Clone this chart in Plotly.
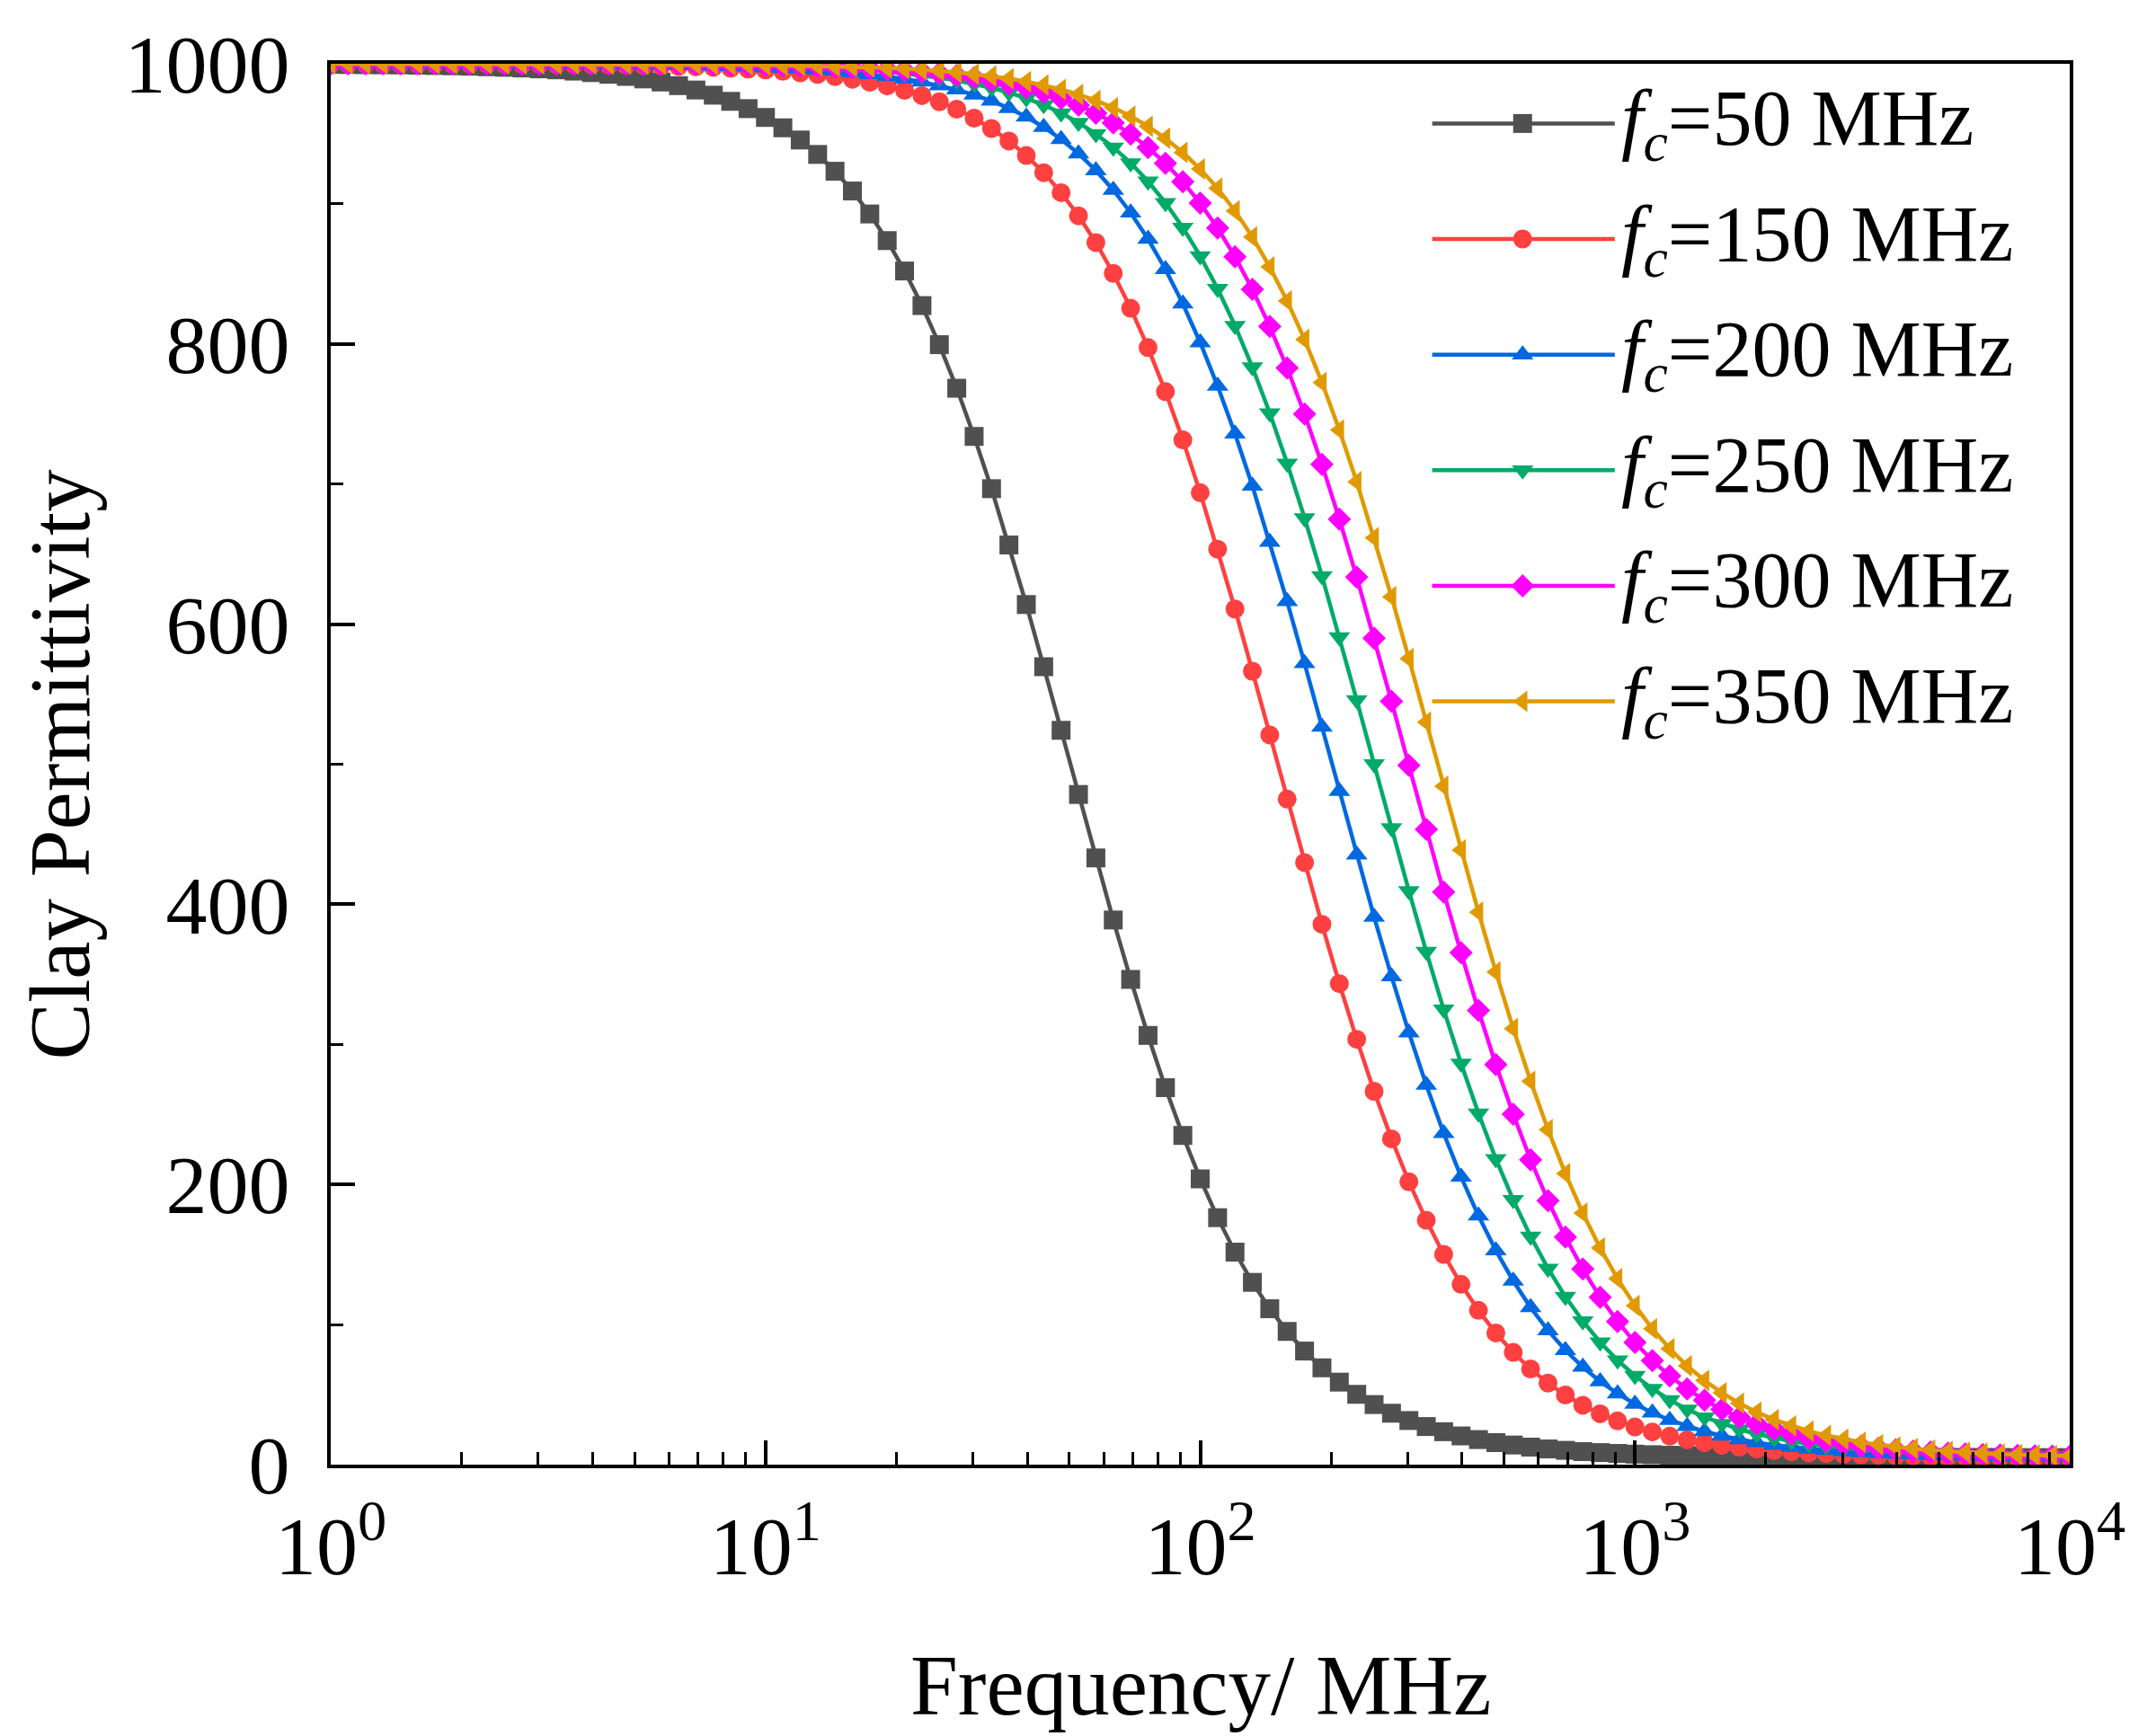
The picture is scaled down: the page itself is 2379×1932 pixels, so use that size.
import plotly.graph_objects as go

# frequency grid (MHz), shared by all curves
freq = [1.0, 1.0965, 1.2023, 1.3183, 1.4454, 1.5849, 1.7378, 1.9055, 2.0893, 2.2909,
        2.5119, 2.7542, 3.02, 3.3113, 3.6308, 3.9811, 4.3652, 4.7863, 5.2481, 5.7544,
        6.3096, 6.9183, 7.5858, 8.3176, 9.1201,
        10.0, 10.965, 12.023, 13.183, 14.454, 15.849, 17.378, 19.055, 20.893, 22.909,
        25.119, 27.542, 30.2, 33.113, 36.308, 39.811, 43.652, 47.863, 52.481, 57.544,
        63.096, 69.183, 75.858, 83.176, 91.201,
        100.0, 109.65, 120.23, 131.83, 144.54, 158.49, 173.78, 190.55, 208.93, 229.09,
        251.19, 275.42, 302.0, 331.13, 363.08, 398.11, 436.52, 478.63, 524.81, 575.44,
        630.96, 691.83, 758.58, 831.76, 912.01,
        1000.0, 1096.5, 1202.3, 1318.3, 1445.4, 1584.9, 1737.8, 1905.5, 2089.3, 2290.9,
        2511.9, 2754.2, 3020.0, 3311.3, 3630.8, 3981.1, 4365.2, 4786.3, 5248.1, 5754.4,
        6309.6, 6918.3, 7585.8, 8317.6, 9120.1,
        10000.0]

eps_fc50 = [999.6, 999.5, 999.4, 999.3, 999.2, 999.0, 998.8, 998.6, 998.3, 997.9,
            997.5, 997.0, 996.4, 995.7, 994.8, 993.7, 992.5, 991.0, 989.2, 987.0,
            984.4, 981.3, 977.6, 973.2, 968.0, 961.7, 954.3, 945.6, 935.3, 923.3,
            909.2, 892.8, 873.8, 852.1, 827.4, 799.5, 768.4, 734.0, 696.7, 656.5,
            614.0, 569.6, 524.2, 478.4, 433.1, 388.8, 346.4, 306.4, 269.1, 235.0,
            204.0, 176.3, 151.7, 130.1, 111.3, 95.1, 81.1, 69.1, 58.9, 50.2,
            42.9, 36.7, 31.5, 27.2, 23.5, 20.5, 17.9, 15.7, 14.0, 12.5,
            11.2, 10.2, 9.3, 8.6, 8.0, 7.5, 7.1, 6.7, 6.4, 6.2,
            6.0, 5.8, 5.7, 5.6, 5.5, 5.4, 5.3, 5.3, 5.2, 5.2,
            5.2, 5.1, 5.1, 5.1, 5.1, 5.1, 5.1, 5.0, 5.0, 5.0,
            5.0]

eps_fc150 = [1000.0, 999.9, 999.9, 999.9, 999.9, 999.9, 999.9, 999.8, 999.8, 999.8,
             999.7, 999.7, 999.6, 999.5, 999.4, 999.3, 999.2, 999.0, 998.8, 998.5,
             998.2, 997.9, 997.5, 996.9, 996.3, 995.6, 994.7, 993.6, 992.4, 990.8,
             989.0, 986.8, 984.2, 981.1, 977.3, 972.9, 967.6, 961.2, 953.8, 944.9,
             934.5, 922.3, 908.0, 891.5, 872.4, 850.4, 825.5, 797.4, 766.0, 731.5,
             693.8, 653.5, 610.8, 566.4, 520.9, 475.1, 429.8, 385.7, 343.4, 303.6,
             266.5, 232.6, 201.9, 174.4, 150.1, 128.7, 110.1, 94.0, 80.1, 68.3,
             58.2, 49.7, 42.4, 36.3, 31.2, 26.9, 23.3, 20.3, 17.7, 15.6,
             13.8, 12.4, 11.1, 10.1, 9.2, 8.5, 7.9, 7.4, 7.0, 6.7,
             6.4, 6.2, 6.0, 5.8, 5.7, 5.6, 5.5, 5.4, 5.3, 5.3,
             5.2]

eps_fc200 = [1000.0, 1000.0, 1000.0, 1000.0, 999.9, 999.9, 999.9, 999.9, 999.9, 999.9,
             999.8, 999.8, 999.8, 999.7, 999.7, 999.6, 999.5, 999.4, 999.3, 999.2,
             999.0, 998.8, 998.6, 998.3, 997.9, 997.5, 997.0, 996.4, 995.7, 994.8,
             993.8, 992.5, 991.0, 989.3, 987.1, 984.5, 981.5, 977.8, 973.5, 968.3,
             962.1, 954.8, 946.1, 935.9, 923.9, 909.9, 893.7, 874.9, 853.3, 828.7,
             801.0, 770.0, 735.9, 698.7, 658.6, 616.2, 572.0, 526.6, 480.8, 435.4,
             391.0, 348.5, 308.4, 271.0, 236.6, 205.5, 177.6, 152.9, 131.2, 112.2,
             95.8, 81.7, 69.7, 59.4, 50.7, 43.3, 37.0, 31.8, 27.4, 23.7,
             20.6, 18.0, 15.8, 14.0, 12.5, 11.3, 10.2, 9.3, 8.6, 8.0,
             7.5, 7.1, 6.7, 6.4, 6.2, 6.0, 5.8, 5.7, 5.6, 5.5,
             5.4]

eps_fc250 = [1000.0, 1000.0, 1000.0, 1000.0, 1000.0, 1000.0, 1000.0, 999.9, 999.9, 999.9,
             999.9, 999.9, 999.9, 999.8, 999.8, 999.7, 999.7, 999.6, 999.6, 999.5,
             999.4, 999.2, 999.1, 998.9, 998.7, 998.4, 998.1, 997.7, 997.2, 996.7,
             996.0, 995.2, 994.3, 993.1, 991.7, 990.1, 988.1, 985.7, 982.8, 979.4,
             975.4, 970.6, 964.8, 958.0, 949.9, 940.4, 929.2, 916.1, 900.8, 883.1,
             862.8, 839.5, 813.1, 783.5, 750.7, 714.8, 675.8, 634.4, 590.8, 545.8,
             500.1, 454.5, 409.6, 366.2, 325.0, 286.4, 250.8, 218.3, 189.0, 163.0,
             140.0, 119.9, 102.5, 87.4, 74.5, 63.5, 54.2, 46.2, 39.5, 33.9,
             29.2, 25.2, 21.8, 19.0, 16.7, 14.8, 13.1, 11.8, 10.6, 9.7,
             8.9, 8.3, 7.7, 7.3, 6.9, 6.6, 6.3, 6.1, 5.9, 5.7,
             5.6]

eps_fc300 = [1000.0, 1000.0, 1000.0, 1000.0, 1000.0, 1000.0, 1000.0, 1000.0, 1000.0, 999.9,
             999.9, 999.9, 999.9, 999.9, 999.9, 999.8, 999.8, 999.7, 999.7, 999.6,
             999.6, 999.5, 999.4, 999.2, 999.1, 998.9, 998.7, 998.4, 998.1, 997.7,
             997.2, 996.7, 996.0, 995.2, 994.2, 993.1, 991.7, 990.0, 988.0, 985.6,
             982.8, 979.4, 975.3, 970.5, 964.7, 957.9, 949.8, 940.2, 929.0, 915.8,
             900.5, 882.7, 862.3, 839.0, 812.5, 782.9, 750.0, 714.0, 675.0, 633.5,
             589.9, 544.9, 499.2, 453.5, 408.7, 365.4, 324.2, 285.6, 250.1, 217.6,
             188.5, 162.5, 139.6, 119.5, 102.2, 87.2, 74.3, 63.3, 54.0, 46.1,
             39.4, 33.8, 29.1, 25.1, 21.8, 19.0, 16.7, 14.7, 13.1, 11.7,
             10.6, 9.7, 8.9, 8.2, 7.7, 7.2, 6.9, 6.6, 6.3, 6.1,
             5.9]

eps_fc350 = [1000.0, 1000.0, 1000.0, 1000.0, 1000.0, 1000.0, 1000.0, 1000.0, 1000.0, 1000.0,
             999.9, 999.9, 999.9, 999.9, 999.9, 999.9, 999.8, 999.8, 999.8, 999.7,
             999.7, 999.6, 999.5, 999.4, 999.3, 999.2, 999.0, 998.8, 998.6, 998.3,
             998.0, 997.6, 997.1, 996.5, 995.8, 994.9, 993.9, 992.6, 991.2, 989.4,
             987.3, 984.8, 981.7, 978.1, 973.8, 968.7, 962.6, 955.4, 946.8, 936.7,
             924.9, 911.1, 895.0, 876.4, 855.0, 830.7, 803.2, 772.5, 738.6, 701.6,
             661.7, 619.5, 575.4, 530.0, 484.3, 438.8, 394.4, 351.7, 311.3, 273.7,
             239.1, 207.8, 179.6, 154.7, 132.7, 113.6, 97.0, 82.7, 70.5, 60.1,
             51.3, 43.8, 37.5, 32.2, 27.7, 23.9, 20.8, 18.2, 16.0, 14.2,
             12.6, 11.4, 10.3, 9.4, 8.7, 8.1, 7.5, 7.1, 6.8, 6.5,
             6.2]

cutoffs = ['50', '150', '200', '250', '300', '350']
series = [eps_fc50, eps_fc150, eps_fc200, eps_fc250, eps_fc300, eps_fc350]
colors = ['#505050', '#ff4040', '#0068e0', '#00aa68', '#ff00ff', '#e09a00']
symbols = ['square', 'circle', 'triangle-up', 'triangle-down', 'diamond', 'triangle-left']
msizes = [21, 21, 21, 21, 20, 21]

FONT = 'Liberation Serif'

fig = go.Figure()

for vals, col, sym, ms in zip(series, colors, symbols, msizes):
    fig.add_trace(go.Scatter(
        x=freq, y=vals,
        mode='lines+markers',
        line=dict(color=col, width=4.5),
        marker=dict(symbol=sym, size=ms, color=col, line=dict(width=0)),
        showlegend=False
    ))

# hand-made legend (long line sample with marker in the middle)
leg_y = [0.9574, 0.8749, 0.7924, 0.7099, 0.6274, 0.5449]
for fc, col, sym, ms, ly in zip(cutoffs, colors, symbols, msizes, leg_y):
    fig.add_trace(go.Scatter(
        x=[0.6334, 0.7384], y=[ly, ly], xaxis='x2', yaxis='y2',
        mode='lines', line=dict(color=col, width=4.5),
        showlegend=False, hoverinfo='skip'
    ))
    fig.add_trace(go.Scatter(
        x=[0.6854], y=[ly], xaxis='x2', yaxis='y2',
        mode='markers', marker=dict(symbol=sym, size=ms, color=col),
        showlegend=False, hoverinfo='skip'
    ))
    fig.add_annotation(
        x=0.7411, y=ly, xref='paper', yref='paper',
        xanchor='left', yanchor='middle', showarrow=False,
        text=f'<i>f</i><sub><i>c</i></sub>={fc} MHz',
        font=dict(family=FONT, size=88, color='black')
    )

minor_x = [m * d for d in [1, 10, 100, 1000] for m in range(2, 10)]

fig.update_layout(
    width=2379, height=1932,
    margin=dict(l=360, r=84, t=63, b=310),
    paper_bgcolor='white', plot_bgcolor='white',
    font=dict(family=FONT, color='black'),
    xaxis=dict(
        type='log', range=[0, 4],
        tickmode='array',
        tickvals=[1, 10, 100, 1000, 10000],
        ticktext=['10<sup>0</sup>', '10<sup>1</sup>', '10<sup>2</sup>',
                  '10<sup>3</sup>', '10<sup>4</sup>'],
        ticks='inside', ticklen=27, tickwidth=4, tickcolor='black',
        ticklabelstandoff=8,
        tickfont=dict(family=FONT, size=92, color='black'),
        minor=dict(tickmode='array', tickvals=minor_x, ticks='inside',
                   ticklen=14, tickwidth=3, tickcolor='black', showgrid=False),
        showline=True, mirror=True, linewidth=4, linecolor='black',
        showgrid=False, zeroline=False
    ),
    yaxis=dict(
        range=[0, 1000], tick0=0, dtick=200,
        ticks='inside', ticklen=27, tickwidth=4, tickcolor='black',
        ticklabelstandoff=23,
        tickfont=dict(family=FONT, size=92, color='black'),
        minor=dict(dtick=100, ticks='inside', ticklen=14, tickwidth=3,
                   tickcolor='black', showgrid=False),
        showline=True, mirror=True, linewidth=4, linecolor='black',
        showgrid=False, zeroline=False
    ),
    xaxis2=dict(overlaying='x', range=[0, 1], visible=False, anchor='y2'),
    yaxis2=dict(overlaying='y', range=[0, 1], visible=False, anchor='x2'),
)

fig.add_annotation(
    x=0.5, y=-0.158, xref='paper', yref='paper', showarrow=False,
    text='Frequency/ MHz', xanchor='center', yanchor='middle',
    font=dict(family=FONT, size=95, color='black')
)
fig.add_annotation(
    x=-0.1556, y=0.5, xref='paper', yref='paper', showarrow=False,
    text='Clay Permittivity', textangle=-90, xanchor='center', yanchor='middle',
    font=dict(family=FONT, size=95, color='black')
)

fig.write_html("out.html")
